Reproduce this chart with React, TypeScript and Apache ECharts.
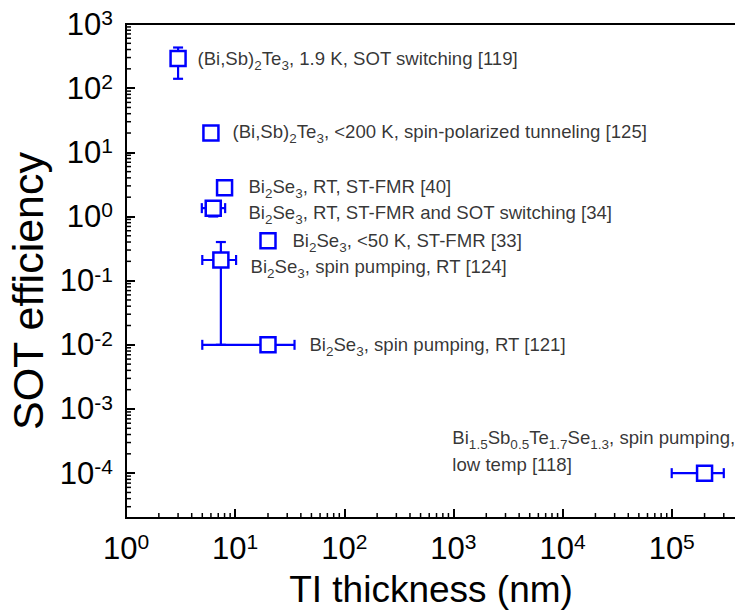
import React, { useEffect, useRef } from 'react';
import * as echarts from 'echarts';

const FONT = '"Liberation Sans", Arial, Helvetica, sans-serif';
const BLUE = '#0000ff';

// Axis ranges (log scales)
const xRange = [1, 5e5];
const yRange = [2e-5, 1000];

// Film thickness (nm) and SOT efficiency per study
const thickness = [3, 6, 8, 6.3, 20, 7.4, 20, 2e5];
const efficiency = [290, 20, 2.8, 1.35, 0.42, 0.21, 0.01, 1e-4];
// Error bar ends (null = no bar on that side)
const thicknessLow = [null, null, null, 4.95, null, 5, 5, 1e5];
const thicknessHigh = [null, null, null, 8.1, null, 10.2, 35, 3e5];
const efficiencyLow = [140, null, null, 1.0, null, 0.01, null, null];
const efficiencyHigh = [430, null, null, null, null, 0.4, null, null];

// Annotations; _{..} marks a subscript
const labelTexts = [
  '(Bi,Sb)_{2}Te_{3}, 1.9 K, SOT switching [119]',
  '(Bi,Sb)_{2}Te_{3}, <200 K, spin-polarized tunneling [125]',
  'Bi_{2}Se_{3}, RT, ST-FMR [40]',
  'Bi_{2}Se_{3}, RT, ST-FMR and SOT switching [34]',
  'Bi_{2}Se_{3}, <50 K, ST-FMR [33]',
  'Bi_{2}Se_{3}, spin pumping, RT [124]',
  'Bi_{2}Se_{3}, spin pumping, RT [121]',
  'Bi_{1.5}Sb_{0.5}Te_{1.7}Se_{1.3}, spin pumping,\nlow temp [118]',
];
const labelX = [4.47, 9.35, 13.1, 13.1, 33.1, 13.7, 47.4, 967];
const labelY = [285, 20.8, 2.89, 1.14, 0.417, 0.164, 0.01, 2.19e-4];

const minorMultipliers = [2, 3, 4, 5, 6, 7, 8, 9];

function minorTicks(range: number[]): number[] {
  const out: number[] = [];
  const k0 = Math.floor(Math.log10(range[0]));
  const k1 = Math.ceil(Math.log10(range[1]));
  for (let k = k0; k <= k1; k++) {
    for (const m of minorMultipliers) {
      const v = m * Math.pow(10, k);
      if (v > range[0] && v < range[1]) out.push(v);
    }
  }
  return out;
}

function toRich(text: string): string {
  return text
    .split('\n')
    .map((line) => {
      const parts = line.split(/_\{([^}]*)\}/);
      return parts
        .map((p, i) => (p === '' ? '' : i % 2 === 0 ? `{t|${p}}` : `{s|${p}}`))
        .join('');
    })
    .join('\n');
}

function powerLabel(v: number): string {
  const e = Math.log10(v);
  if (Math.abs(e - Math.round(e)) > 1e-6) return '';
  return `{b|10}{p|${Math.round(e)}}`;
}

const tickRich = {
  b: { fontSize: 31, lineHeight: 34, fontFamily: FONT, color: '#000' },
  p: { fontSize: 21, lineHeight: 21, fontFamily: FONT, color: '#000', verticalAlign: 'top' },
};

export default function App() {
  const ref = useRef<HTMLDivElement>(null);

  useEffect(() => {
    if (!ref.current) return;
    const chart = echarts.init(ref.current, undefined, { renderer: 'svg' });

    const xMinor = minorTicks(xRange).map((v) => [v, yRange[0]]);
    const yMinor = minorTicks(yRange).map((v) => [xRange[0], v]);

    chart.setOption({
      animation: false,
      backgroundColor: '#fff',
      grid: {
        left: 126,
        top: 24,
        width: 622,
        height: 494,
        outerBoundsMode: 'none',
        containLabel: false,
        show: true,
        borderColor: '#000',
        borderWidth: 2,
        backgroundColor: 'transparent',
      },
      xAxis: {
        type: 'log',
        logBase: 10,
        min: xRange[0],
        max: xRange[1],
        axisLine: { show: true, lineStyle: { color: '#000', width: 2 } },
        axisTick: { show: true, inside: true, length: 9, lineStyle: { color: '#000', width: 2 } },
        splitLine: { show: false },
        axisLabel: { margin: 13, formatter: powerLabel, rich: tickRich },
      },
      yAxis: {
        type: 'log',
        logBase: 10,
        min: yRange[0],
        max: yRange[1],
        axisLine: { show: true, lineStyle: { color: '#000', width: 2 } },
        axisTick: { show: true, inside: true, length: 9, lineStyle: { color: '#000', width: 2 } },
        splitLine: { show: false },
        axisLabel: { margin: 13, formatter: powerLabel, rich: tickRich },
      },
      graphic: [
        {
          type: 'text',
          x: 431,
          y: 589,
          style: {
            text: 'TI thickness (nm)',
            fontSize: 37,
            fontFamily: FONT,
            fill: '#000',
            textAlign: 'center',
            textVerticalAlign: 'middle',
            align: 'center',
            verticalAlign: 'middle',
          },
        },
        {
          type: 'text',
          x: 28,
          y: 291,
          rotation: Math.PI / 2,
          style: {
            text: 'SOT efficiency',
            fontSize: 43,
            fontFamily: FONT,
            fill: '#000',
            textAlign: 'center',
            textVerticalAlign: 'middle',
            align: 'center',
            verticalAlign: 'middle',
          },
        },
      ],
      series: [
        {
          // minor ticks on the bottom axis
          type: 'custom',
          silent: true,
          clip: false,
          z: 5,
          data: xMinor,
          renderItem: (_p: any, api: any) => {
            const pt = api.coord([api.value(0), api.value(1)]);
            return {
              type: 'line',
              shape: { x1: pt[0], y1: pt[1], x2: pt[0], y2: pt[1] - 5 },
              style: { stroke: '#000', lineWidth: 1.5 },
            };
          },
        },
        {
          // minor ticks on the left axis
          type: 'custom',
          silent: true,
          clip: false,
          z: 5,
          data: yMinor,
          renderItem: (_p: any, api: any) => {
            const pt = api.coord([api.value(0), api.value(1)]);
            return {
              type: 'line',
              shape: { x1: pt[0], y1: pt[1], x2: pt[0] + 5, y2: pt[1] },
              style: { stroke: '#000', lineWidth: 1.5 },
            };
          },
        },
        {
          // error bars
          type: 'custom',
          silent: true,
          clip: false,
          z: 2,
          data: thickness.map((x, i) => [x, efficiency[i]]),
          renderItem: (params: any, api: any) => {
            const i = params.dataIndex;
            const x = thickness[i];
            const y = efficiency[i];
            const cap = 5;
            const style = { stroke: BLUE, lineWidth: 2.2 };
            const children: any[] = [];
            const xl = thicknessLow[i];
            const xh = thicknessHigh[i];
            if (xl != null || xh != null) {
              const a = api.coord([xl ?? x, y]);
              const b = api.coord([xh ?? x, y]);
              children.push({ type: 'line', shape: { x1: a[0], y1: a[1], x2: b[0], y2: b[1] }, style });
              if (xl != null) children.push({ type: 'line', shape: { x1: a[0], y1: a[1] - cap, x2: a[0], y2: a[1] + cap }, style });
              if (xh != null) children.push({ type: 'line', shape: { x1: b[0], y1: b[1] - cap, x2: b[0], y2: b[1] + cap }, style });
            }
            const yl = efficiencyLow[i];
            const yh = efficiencyHigh[i];
            if (yl != null || yh != null) {
              const a = api.coord([x, yl ?? y]);
              const b = api.coord([x, yh ?? y]);
              children.push({ type: 'line', shape: { x1: a[0], y1: a[1], x2: b[0], y2: b[1] }, style });
              if (yl != null) children.push({ type: 'line', shape: { x1: a[0] - cap, y1: a[1], x2: a[0] + cap, y2: a[1] }, style });
              if (yh != null) children.push({ type: 'line', shape: { x1: b[0] - cap, y1: b[1], x2: b[0] + cap, y2: b[1] }, style });
            }
            return { type: 'group', children };
          },
        },
        {
          type: 'scatter',
          silent: true,
          z: 3,
          symbol: 'rect',
          symbolSize: 15,
          itemStyle: { color: '#fff', borderColor: BLUE, borderWidth: 2.5, opacity: 1 },
          data: thickness.map((x, i) => [x, efficiency[i]]),
        },
        {
          // annotation anchors
          type: 'scatter',
          silent: true,
          z: 4,
          symbolSize: 1,
          itemStyle: { color: 'transparent' },
          data: labelX.map((x, i) => [x, labelY[i]]),
          label: {
            show: true,
            position: 'right',
            distance: 0,
            color: '#000',
            formatter: (p: any) => toRich(labelTexts[p.dataIndex]),
            rich: {
              t: { fontSize: 18.6, lineHeight: 27, fontFamily: FONT, color: '#000' },
              s: { fontSize: 13.5, lineHeight: 15, fontFamily: FONT, color: '#000', verticalAlign: 'bottom' },
            },
          },
          labelLayout: { hideOverlap: false },
        },
      ],
    });

    return () => chart.dispose();
  }, []);

  return (
    <div
      ref={ref}
      style={{ position: 'fixed', left: 0, top: 0, width: 735, height: 613, background: '#fff' }}
    />
  );
}
